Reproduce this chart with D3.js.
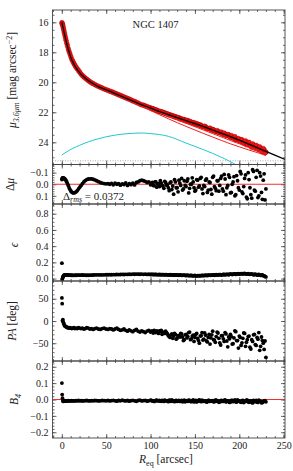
<!DOCTYPE html>
<html>
<head>
<meta charset="utf-8">
<script src="https://cdn.jsdelivr.net/npm/d3@7"></script>
<style>
  body { margin: 0; background: #fff; }
  text { font-family: "Liberation Serif", "DejaVu Serif", serif; fill: #222; }
</style>
</head>
<body>
<div id="graf"></div>
<script>
// radio equivalente de cada isofota (arcsec)
const radios = [
  0.1, 0.4, 0.8, 1.2, 1.7, 2.2, 2.8, 3.4, 4.1, 4.8,
  5.6, 6.4, 7.3, 8.2, 9.2, 10.2, 11.3, 12.4, 13.6, 14.8,
  16.1, 17.4, 18.8, 20.2, 21.7, 23.2, 24.8, 26.4, 28.1, 29.8,
  31.6, 33.4, 35.3, 37.2, 39.2, 41.2, 43.3, 45.4, 47.6, 49.8,
  52, 54, 56, 58, 60, 62, 64, 66, 68, 70,
  72, 74, 76, 78, 80, 82, 84, 86, 88, 90,
  92, 94, 96, 98, 100, 102, 104, 106, 108, 110,
  112, 114, 116, 118, 120, 122, 124, 126, 128, 130,
  132, 134, 136, 138, 140, 142, 144, 146, 148, 150,
  152, 154, 156, 158, 160, 162, 164, 166, 168, 170,
  172, 174, 176, 178, 180, 182, 184, 186, 188, 190,
  192, 194, 196, 198, 200, 202, 204, 206, 208, 210,
  212, 214, 216, 218, 220, 222, 224, 226, 228, 230,
]
const brillo = [
  16.03, 16.08, 16.15, 16.25, 16.38, 16.52, 16.68, 16.85, 17.03, 17.2,
  17.4, 17.58, 17.78, 17.95, 18.12, 18.3, 18.47, 18.6, 18.74, 18.87,
  19.0, 19.1, 19.22, 19.33, 19.45, 19.55, 19.64, 19.72, 19.8, 19.88,
  19.96, 20.03, 20.09, 20.15, 20.22, 20.27, 20.33, 20.38, 20.44, 20.49,
  20.54, 20.59, 20.63, 20.68, 20.73, 20.78, 20.83, 20.88, 20.93, 20.98,
  21.03, 21.08, 21.13, 21.18, 21.24, 21.28, 21.34, 21.39, 21.45, 21.5,
  21.53, 21.58, 21.62, 21.67, 21.71, 21.76, 21.8, 21.85, 21.9, 21.94,
  21.98, 22.03, 22.05, 22.1, 22.15, 22.17, 22.23, 22.28, 22.29, 22.35,
  22.37, 22.42, 22.48, 22.48, 22.56, 22.55, 22.63, 22.68, 22.7, 22.78,
  22.76, 22.83, 22.84, 22.93, 22.96, 22.98, 23.08, 23.07, 23.15, 23.14,
  23.24, 23.3, 23.28, 23.37, 23.34, 23.47, 23.45, 23.55, 23.51, 23.67,
  23.66, 23.68, 23.84, 23.78, 23.89, 23.82, 24.02, 23.97, 24.16, 24.02,
  24.18, 24.33, 24.2, 24.4, 24.27, 24.5, 24.41, 24.62, 24.51, 24.66,
]
const residuo = [
  -0.04, -0.05, -0.055, -0.05, -0.055, -0.05, -0.05, -0.045, -0.04, -0.03,
  -0.02, -0.005, 0.01, 0.03, 0.045, 0.058, 0.068, 0.073, 0.075, 0.072,
  0.065, 0.055, 0.04, 0.025, 0.01, -0.005, -0.02, -0.032, -0.04, -0.045,
  -0.047, -0.046, -0.043, -0.037, -0.03, -0.022, -0.015, -0.01, -0.006, -0.004,
  -0.005, 0.0, -0.008, 0.005, -0.01, 0.0, -0.006, 0.008, -0.004, 0.002,
  -0.012, 0.01, -0.005, 0.004, -0.01, 0.006, -0.015, -0.02, -0.03, -0.035,
  -0.03, -0.025, -0.015, -0.02, 0.005, -0.015, 0.012, -0.02, 0.0, 0.02,
  -0.01, 0.015, -0.025, 0.008, 0.03, -0.012, 0.045, 0.085, -0.02, 0.03,
  -0.035, 0.01, 0.05, -0.03, 0.02, -0.045, 0.035, 0.0, -0.02, 0.06,
  -0.04, 0.025, -0.05, 0.04, 0.01, -0.035, 0.07, -0.02, 0.045, -0.06,
  0.02, 0.055, -0.03, 0.01, -0.07, 0.06, -0.045, 0.03, -0.08, 0.075,
  0.0, -0.065, 0.09, -0.03, 0.05, -0.09, 0.08, -0.05, 0.11, -0.1,
  0.03, 0.12, -0.11, 0.06, -0.12, 0.1, -0.07, 0.13, -0.09, 0.04,
]
const elipticidad = [
  0.19, -0.012, 0.005, 0.02, 0.03, 0.038, 0.042, 0.045, 0.045, 0.046,
  0.045, 0.044, 0.043, 0.042, 0.042, 0.041, 0.041, 0.04, 0.04, 0.041,
  0.041, 0.042, 0.042, 0.043, 0.043, 0.044, 0.043, 0.042, 0.041, 0.041,
  0.042, 0.043, 0.044, 0.045, 0.046, 0.046, 0.045, 0.045, 0.046, 0.047,
  0.047, 0.048, 0.047, 0.049, 0.048, 0.05, 0.049, 0.05, 0.051, 0.05,
  0.052, 0.051, 0.053, 0.052, 0.054, 0.053, 0.055, 0.054, 0.053, 0.055,
  0.052, 0.054, 0.051, 0.053, 0.05, 0.052, 0.049, 0.051, 0.048, 0.05,
  0.047, 0.049, 0.046, 0.048, 0.045, 0.047, 0.044, 0.046, 0.043, 0.045,
  0.041, 0.044, 0.04, 0.043, 0.038, 0.041, 0.036, 0.04, 0.034, 0.038,
  0.033, 0.037, 0.035, 0.039, 0.036, 0.041, 0.038, 0.043, 0.04, 0.045,
  0.041, 0.047, 0.043, 0.049, 0.044, 0.05, 0.046, 0.052, 0.047, 0.054,
  0.049, 0.057, 0.051, 0.059, 0.054, 0.062, 0.056, 0.064, 0.055, 0.06,
  0.052, 0.058, 0.047, 0.054, 0.044, 0.05, 0.04, 0.045, 0.032, 0.02,
]
const anguloPA = [
  52, 39, 1, 3, -3, -6, -9, -11, -12, -13,
  -14, -15, -15, -16, -15, -16, -17, -16, -15, -17,
  -16, -17, -15, -16, -17, -16, -18, -17, -15, -16,
  -18, -17, -19, -17, -16, -18, -19, -17, -16, -18,
  -19, -17, -18, -20, -18, -16, -19, -21, -20, -18,
  -21, -23, -20, -22, -24, -21, -19, -23, -25, -22,
  -24, -26, -23, -21, -25, -23, -21, -26, -24, -22,
  -21, -25, -28, -26, -33, -37, -29, -34, -30, -38,
  -33, -28, -36, -42, -30, -35, -25, -40, -32, -37,
  -28, -44, -34, -26, -41, -32, -47, -30, -38, -23,
  -43, -35, -27, -49, -33, -40, -26, -45, -36, -30,
  -52, -38, -24, -44, -34, -55, -39, -28, -48, -35,
  -59, -42, -31, -53, -37, -26, -57, -44, -64, -82,
]
const b4 = [
  0.1, 0.03, 0.008, -0.008, -0.012, -0.01, -0.009, -0.01, -0.008, -0.009,
  -0.008, -0.009, -0.007, -0.008, -0.009, -0.008, -0.007, -0.008, -0.009, -0.008,
  -0.007, -0.008, -0.006, -0.008, -0.007, -0.009, -0.008, -0.007, -0.006, -0.008,
  -0.009, -0.007, -0.008, -0.006, -0.007, -0.009, -0.008, -0.006, -0.007, -0.008,
  -0.006, -0.009, -0.007, -0.005, -0.008, -0.01, -0.006, -0.008, -0.004, -0.007,
  -0.009, -0.006, -0.01, -0.007, -0.005, -0.008, -0.011, -0.006, -0.004, -0.009,
  -0.007, -0.005, -0.01, -0.008, -0.004, -0.009, -0.012, -0.006, -0.008, -0.005,
  -0.011, -0.007, -0.004, -0.009, -0.013, -0.006, -0.002, -0.01, -0.007, -0.012,
  -0.005, -0.009, -0.014, -0.004, -0.008, -0.011, -0.006, -0.013, -0.003, -0.009,
  -0.015, -0.006, -0.01, -0.004, -0.012, -0.008, -0.014, -0.005, -0.01, -0.007,
  -0.013, -0.004, -0.009, -0.015, -0.006, -0.011, -0.003, -0.012, -0.008, -0.016,
  -0.005, -0.01, -0.014, -0.002, -0.009, -0.017, -0.006, -0.012, -0.004, -0.015,
  -0.008, -0.018, -0.006, -0.013, -0.016, -0.004, -0.011, -0.019, -0.008, -0.014,
]

// isofotas intermedias de la parte externa (radios impares)
const radiosExtra = [
  101, 103, 105, 107, 109, 111, 113, 115, 117, 119,
  121, 123, 125, 127, 129, 131, 133, 135, 137, 139,
  141, 143, 145, 147, 149, 151, 153, 155, 157, 159,
  161, 163, 165, 167, 169, 171, 173, 175, 177, 179,
  181, 183, 185, 187, 189, 191, 193, 195, 197, 199,
  201, 203, 205, 207, 209, 211, 213, 215, 217, 219,
  221, 223, 225, 227, 229,
]
const brilloExtra = [
  21.75, 21.77, 21.83, 21.86, 21.93, 21.95, 21.98, 22.02, 22.09, 22.1,
  22.18, 22.2, 22.23, 22.3, 22.33, 22.36, 22.44, 22.45, 22.5, 22.56,
  22.54, 22.64, 22.63, 22.72, 22.69, 22.81, 22.8, 22.86, 22.9, 22.97,
  22.93, 23.05, 23.1, 23.06, 23.2, 23.17, 23.26, 23.22, 23.36, 23.32,
  23.46, 23.39, 23.55, 23.48, 23.62, 23.55, 23.74, 23.63, 23.83, 23.75,
  23.93, 23.84, 24.04, 23.9, 24.12, 24.0, 24.26, 24.1, 24.35, 24.2,
  24.46, 24.3, 24.58, 24.42, 24.7,
]
const residuoExtra = [
  -0.01, 0.01, -0.02, 0.025, -0.005, -0.03, 0.01, 0.035, -0.015, 0.005,
  0.055, -0.02, 0.015, -0.04, 0.03, 0.065, -0.01, -0.05, 0.04, 0.01,
  -0.025, 0.075, 0.0, -0.055, 0.03, 0.05, -0.035, 0.015, -0.06, 0.08,
  0.02, -0.045, 0.05, -0.015, 0.085, -0.07, 0.035, -0.03, 0.06, -0.05,
  0.04, -0.085, 0.09, 0.01, -0.06, 0.07, -0.02, 0.1, -0.075, 0.03,
  -0.11, 0.065, 0.02, -0.08, 0.125, -0.04, 0.09, -0.125, 0.05, -0.06,
  0.115, -0.1, 0.07, -0.035, 0.135,
]
const elipticidadExtra = [
  0.051, 0.05, 0.05, 0.049, 0.049, 0.048, 0.049, 0.047, 0.048, 0.046,
  0.046, 0.045, 0.045, 0.044, 0.044, 0.042, 0.043, 0.04, 0.042, 0.039,
  0.039, 0.037, 0.038, 0.035, 0.036, 0.034, 0.036, 0.035, 0.037, 0.038,
  0.039, 0.04, 0.041, 0.042, 0.043, 0.044, 0.045, 0.046, 0.047, 0.048,
  0.048, 0.05, 0.05, 0.052, 0.053, 0.054, 0.055, 0.057, 0.057, 0.06,
  0.058, 0.06, 0.061, 0.059, 0.057, 0.056, 0.054, 0.052, 0.05, 0.049,
  0.047, 0.043, 0.041, 0.036, 0.027,
]
const anguloPAExtra = [
  -23, -27, -25, -22, -28, -24, -30, -26, -23, -29,
  -35, -31, -39, -28, -41, -33, -36, -29, -44, -31,
  -38, -26, -42, -34, -46, -30, -39, -50, -33, -43,
  -27, -45, -37, -52, -31, -42, -48, -25, -39, -54,
  -33, -46, -29, -58, -40, -35, -51, -22, -44, -61,
  -37, -49, -27, -57, -42, -34, -63, -46, -30, -55,
  -41, -66, -36, -50, -45,
]
const b4Extra = [
  -0.006, -0.009, -0.011, -0.004, -0.008, -0.01, -0.005, -0.012, -0.007, -0.009,
  -0.004, -0.011, -0.008, -0.013, -0.005, -0.009, -0.012, -0.006, -0.01, -0.014,
  -0.007, -0.004, -0.012, -0.009, -0.015, -0.006, -0.011, -0.003, -0.013, -0.008,
  -0.01, -0.016, -0.005, -0.012, -0.008, -0.014, -0.004, -0.011, -0.017, -0.007,
  -0.012, -0.005, -0.015, -0.009, -0.018, -0.006, -0.013, -0.003, -0.016, -0.01,
  -0.014, -0.007, -0.019, -0.011, -0.004, -0.017, -0.009, -0.021, -0.012, -0.006,
  -0.018, -0.01, -0.02, -0.013, -0.007,
]

// modelo total y componentes
const radiosModelo = [0, 1, 2, 3, 4, 5, 6, 8, 10, 12, 15, 20, 25, 30, 35, 40, 50, 60, 70, 80, 90, 100, 110, 120, 130, 140, 150, 160, 170, 180, 190, 200, 210, 220, 230, 240, 252]
const modeloTotal = [16.0, 16.25, 16.5, 16.78, 17.04, 17.3, 17.52, 17.95, 18.32, 18.6, 18.95, 19.35, 19.65, 19.9, 20.08, 20.25, 20.5, 20.75, 21.0, 21.25, 21.5, 21.72, 21.95, 22.15, 22.35, 22.55, 22.75, 22.96, 23.18, 23.4, 23.62, 23.85, 24.1, 24.35, 24.6, 24.85, 25.15]
const radiosComp = [0, 2, 5, 10, 15, 20, 30, 40, 50, 60, 70, 80, 90, 100, 110, 120, 130, 140, 150, 160, 170, 180, 190, 200, 210, 220, 230]
const compInterna = [16.0, 16.5, 17.3, 18.32, 18.95, 19.36, 19.92, 20.28, 20.55, 20.8, 21.06, 21.33, 21.6, 21.88, 22.16, 22.43, 22.69, 22.94, 23.18, 23.42, 23.65, 23.88, 24.1, 24.3, 24.5, 24.68, 24.88]
const compExterna = [16.0, 16.5, 17.3, 18.32, 18.95, 19.35, 19.9, 20.26, 20.52, 20.77, 21.02, 21.28, 21.53, 21.78, 22.02, 22.26, 22.5, 22.73, 22.96, 23.19, 23.42, 23.65, 23.88, 24.1, 24.33, 24.55, 24.77]
const radiosGauss = [0, 5, 20, 40, 60, 80, 90, 100, 120, 140, 160, 180, 195, 205]
const compGauss = [24.85, 24.65, 24.2, 23.78, 23.52, 23.4, 23.38, 23.42, 23.6, 24.05, 24.5, 25.0, 25.45, 25.8]
const limiteCielo = 25.23
const deltaRms = "0.0372"

// marcas de los ejes
const ticksX = [0, 50, 100, 150, 200, 250]
const ticksMu = [16, 18, 20, 22, 24]
const ticksDmu = [-0.1, 0.0, 0.1]
const ticksEps = [0.0, 0.2, 0.4, 0.6, 0.8]
const ticksPa = [-50, 0, 50]
const ticksB4 = [-0.2, -0.1, 0.0, 0.1, 0.2]

const anchoTotal = 293
const altoTotal = 471
const izq = 52.5
const der = 285

const svg = d3.select("#graf")
  .append("svg")
  .attr("width", anchoTotal)
  .attr("height", altoTotal)

const x = d3.scaleLinear().domain([-10.5, 251.5]).range([izq, der])

const paneles = [
  { key: "mu", top: 10, bottom: 164.5, domain: [15.18, 25.48], ticks: ticksMu, minor: 0.5, fmt: d3.format("d") },
  { key: "dmu", top: 164.5, bottom: 204, domain: [-0.17, 0.17], ticks: ticksDmu, minor: 0.02, fmt: d3.format(".1f") },
  { key: "eps", top: 204, bottom: 281, domain: [0.92, -0.03], ticks: ticksEps, minor: 0.05, fmt: d3.format(".1f") },
  { key: "pa", top: 281, bottom: 361, domain: [90, -90], ticks: ticksPa, minor: 10, fmt: d3.format("d") },
  { key: "b4", top: 361, bottom: 438, domain: [0.235, -0.235], ticks: ticksB4, minor: 0.02, fmt: d3.format(".1f") },
]

const minorX = d3.range(-10, 252, 10)
const colorEje = "#444"

paneles.forEach((p, i) => {
  p.y = d3.scaleLinear().domain(p.domain).range([p.top, p.bottom])
  const lo = d3.min(p.domain), hi = d3.max(p.domain)
  const minor = d3.range(Math.ceil(lo / p.minor) * p.minor, hi, p.minor)

  svg.append("clipPath").attr("id", `clip-${p.key}`)
    .append("rect")
    .attr("x", izq).attr("y", p.top)
    .attr("width", der - izq).attr("height", p.bottom - p.top)

  // ticks menores
  svg.append("g").attr("transform", `translate(${izq},0)`)
    .call(d3.axisLeft(p.y).tickValues(minor).tickSize(-2).tickSizeOuter(0).tickFormat(""))
  svg.append("g").attr("transform", `translate(${der},0)`)
    .call(d3.axisRight(p.y).tickValues(minor).tickSize(-2).tickSizeOuter(0).tickFormat(""))
  svg.append("g").attr("transform", `translate(0,${p.top})`)
    .call(d3.axisTop(x).tickValues(minorX).tickSize(-2).tickSizeOuter(0).tickFormat(""))
  svg.append("g").attr("transform", `translate(0,${p.bottom})`)
    .call(d3.axisBottom(x).tickValues(minorX).tickSize(-2).tickSizeOuter(0).tickFormat(""))

  // ticks mayores
  svg.append("g").attr("transform", `translate(${izq},0)`)
    .call(d3.axisLeft(p.y).tickValues(p.ticks).tickSize(-4).tickSizeOuter(0).tickPadding(4).tickFormat(p.fmt))
  svg.append("g").attr("transform", `translate(${der},0)`)
    .call(d3.axisRight(p.y).tickValues(p.ticks).tickSize(-4).tickSizeOuter(0).tickFormat(""))
  svg.append("g").attr("transform", `translate(0,${p.top})`)
    .call(d3.axisTop(x).tickValues(ticksX).tickSize(-4).tickSizeOuter(0).tickFormat(""))
  svg.append("g")
    .attr("transform", `translate(0,${p.bottom})`)
    .call(d3.axisBottom(x).tickValues(ticksX).tickSize(-4).tickSizeOuter(0).tickPadding(4)
      .tickFormat(i === paneles.length - 1 ? d3.format("d") : ""))
})

svg.selectAll(".domain").remove()
svg.selectAll(".tick line").attr("stroke", colorEje).attr("stroke-width", 0.8)
svg.selectAll(".tick text").attr("font-size", 10).attr("fill", "#222")
  .attr("font-family", "Liberation Serif, serif")

const [pMu, pDmu, pEps, pPa, pB4] = paneles
const todosRadios = radios.concat(radiosExtra)

// panel 1: perfil de brillo
const g1 = svg.append("g").attr("clip-path", "url(#clip-mu)")
g1.append("line")
  .attr("x1", izq).attr("x2", der)
  .attr("y1", pMu.y(limiteCielo)).attr("y2", pMu.y(limiteCielo))
  .attr("stroke", "#999").attr("stroke-width", 0.8).attr("stroke-dasharray", "1,1.5")

const linea = (xs, ys, yScale) => d3.line()
  .x((d, i) => x(xs[i])).y((d) => yScale(d))
  .curve(d3.curveMonotoneX)(ys)

g1.append("path").attr("d", linea(radiosGauss, compGauss, pMu.y))
  .attr("fill", "none").attr("stroke", "#1fc8cc").attr("stroke-width", 1)

g1.selectAll("circle.dato")
  .data(brillo.concat(brilloExtra))
  .enter()
  .append("circle")
  .attr("class", "dato")
  .attr("cx", (d, i) => x(todosRadios[i]))
  .attr("cy", (d) => pMu.y(d))
  .attr("r", 2.4)
  .attr("fill", "#f01010")
  .attr("stroke", "#a00000")
  .attr("stroke-width", 0.4)

g1.append("path").attr("d", linea(radiosComp, compInterna, pMu.y))
  .attr("fill", "none").attr("stroke", "#f02020").attr("stroke-width", 1)
g1.append("path").attr("d", linea(radiosComp, compExterna, pMu.y))
  .attr("fill", "none").attr("stroke", "#f02020").attr("stroke-width", 1)
g1.append("path").attr("d", linea(radiosModelo, modeloTotal, pMu.y))
  .attr("fill", "none").attr("stroke", "#000").attr("stroke-width", 1.3)

// paneles de puntos negros
const puntos = (p, valores, cero) => {
  const g = svg.append("g").attr("clip-path", `url(#clip-${p.key})`)
  if (cero) {
    g.append("line")
      .attr("x1", izq).attr("x2", der)
      .attr("y1", p.y(0)).attr("y2", p.y(0))
      .attr("stroke", "#f03030").attr("stroke-width", 1.1)
  }
  g.selectAll("circle")
    .data(valores)
    .enter()
    .append("circle")
    .attr("cx", (d, i) => x(todosRadios[i]))
    .attr("cy", (d) => p.y(d))
    .attr("r", 1.9)
    .attr("fill", "#000")
}

puntos(pDmu, residuo.concat(residuoExtra), true)
puntos(pEps, elipticidad.concat(elipticidadExtra), false)
puntos(pPa, anguloPA.concat(anguloPAExtra), false)
puntos(pB4, b4.concat(b4Extra), true)

// marco
paneles.forEach((p) => {
  svg.append("rect")
    .attr("x", izq).attr("y", p.top)
    .attr("width", der - izq).attr("height", p.bottom - p.top)
    .attr("fill", "none").attr("stroke", colorEje).attr("stroke-width", 0.9)
})

// textos
svg.append("text")
  .attr("x", 155.5).attr("y", 27.5)
  .attr("text-anchor", "middle")
  .attr("font-size", 10.5)
  .text("NGC 1407")

const rms = svg.append("text").attr("x", 63).attr("y", 199.5).attr("font-size", 11)
rms.append("tspan").text("Δ")
rms.append("tspan").attr("font-style", "italic").attr("font-size", 8).attr("dy", 2.5).text("rms")
rms.append("tspan").attr("dy", -2.5).text(" = " + deltaRms)

const etiquetaY = (cx, cy, partes) => {
  const t = svg.append("text")
    .attr("transform", `translate(${cx},${cy}) rotate(-90)`)
    .attr("text-anchor", "middle")
    .attr("font-size", 11.5)
  partes.forEach((q) => {
    const s = t.append("tspan").text(q.t)
    if (q.i) s.attr("font-style", "italic")
    if (q.s) s.attr("font-size", q.s)
    if (q.dy) s.attr("dy", q.dy)
  })
}

etiquetaY(16, 80, [
  { t: "μ", i: true },
  { t: "3.6μm", i: true, s: 8, dy: 3 },
  { t: " [mag arcsec", dy: -3 },
  { t: "−2", s: 8, dy: -4 },
  { t: "]", dy: 4 },
])
etiquetaY(14, 184.5, [{ t: "Δ" }, { t: "μ", i: true }])
etiquetaY(18, 245, [{ t: "ϵ", i: true }])
etiquetaY(16, 321, [{ t: "PA", i: true }, { t: " [deg]" }])
etiquetaY(18, 399.5, [{ t: "B", i: true }, { t: "4", i: true, s: 8, dy: 2.5 }])

const xl = svg.append("text")
  .attr("x", 166).attr("y", 463)
  .attr("text-anchor", "middle")
  .attr("font-size", 11.5)
xl.append("tspan").attr("font-style", "italic").text("R")
xl.append("tspan").attr("font-size", 8).attr("dy", 2.5).text("eq")
xl.append("tspan").attr("dy", -2.5).text(" [arcsec]")
</script>
</body>
</html>
